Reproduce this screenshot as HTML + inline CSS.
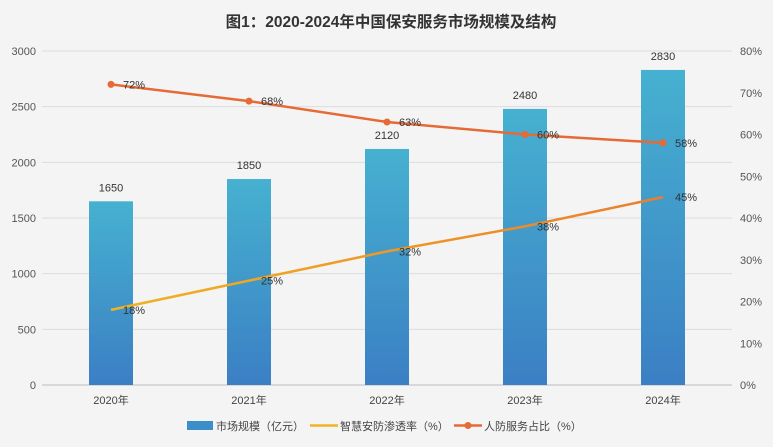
<!DOCTYPE html>
<html><head><meta charset="utf-8"><style>
body{margin:0;background:#f4f4f4;}
svg{display:block;font-family:"Liberation Sans","Noto Sans CJK SC",sans-serif;}
</style></head><body>
<svg id="c" width="773" height="447">
<defs>
<linearGradient id="bg" x1="0" y1="0" x2="0" y2="1"><stop offset="0" stop-color="#46b1d0"/><stop offset="1" stop-color="#3b7fc4"/></linearGradient>
<linearGradient id="lg" x1="0" y1="0" x2="1" y2="0"><stop offset="0" stop-color="#f0b323"/><stop offset="1" stop-color="#ea7e2c"/></linearGradient>
</defs>
<rect width="773" height="447" fill="#f4f4f4"/>
<text x="391" y="27" text-anchor="middle" font-size="15.5" font-weight="bold" fill="#333">图1：2020-2024年中国保安服务市场规模及结构</text>
<g id="g"></g>
<g>
<rect x="187" y="421" width="26" height="9" fill="#3b8ec8"/>
<text x="216" y="430" font-size="11" fill="#444">市场规模（亿元）</text>
<line x1="310" y1="425.5" x2="338" y2="425.5" stroke="#f0b323" stroke-width="2.5"/>
<text x="340" y="430" font-size="11" fill="#444">智慧安防渗透率（%）</text>
<line x1="454" y1="425.5" x2="482" y2="425.5" stroke="#e56a35" stroke-width="2.5"/>
<circle cx="468" cy="425.5" r="3.5" fill="#e56a35"/>
<text x="484" y="430" font-size="11" fill="#444">人防服务占比（%）</text>
</g>
</svg>
<script>
const categories=["2020年","2021年","2022年","2023年","2024年"];
const marketSize=[1650,1850,2120,2480,2830];
const smartRate=[18,25,32,38,45];
const manpowerShare=[72,68,63,60,58];
const leftTicks=[0,500,1000,1500,2000,2500,3000];
const rightTicks=[0,10,20,30,40,50,60,70,80];
const NS="http://www.w3.org/2000/svg";
const g=document.getElementById('g');
const X0=42,X1=732,Y0=385,Y1=51;
const band=(X1-X0)/categories.length;
const xc=i=>X0+band*(i+0.5);
const yl=v=>Y0-(v/3000)*(Y0-Y1);
const yr=v=>Y0-(v/80)*(Y0-Y1);
function el(t,a,txt){const e=document.createElementNS(NS,t);for(const k in a)e.setAttribute(k,a[k]);if(txt!=null)e.textContent=txt;g.appendChild(e);return e;}
leftTicks.forEach(v=>{
 const l=el('line',{x1:X0,x2:X1,y1:yl(v),y2:yl(v),stroke:v===0?'#bbb':'#dcdcdc','stroke-width':1});
 
 
 const t=el('text',{x:36,y:yl(v)+4,'text-anchor':'end','font-size':11,fill:'#555'},v);
 
 
});
rightTicks.forEach(v=>{
 const t=el('text',{x:740,y:yr(v)+4,'font-size':11,fill:'#555'},v+'%');
 
 
});
categories.forEach((c,i)=>{
 const t=el('text',{x:xc(i),y:404,'text-anchor':'middle','font-size':11,fill:'#444'},c);
 
 
 const b=el('rect',{x:xc(i)-22,y:yl(marketSize[i]),width:44,height:Y0-yl(marketSize[i]),fill:'url(#bg)'});
 
 
 const bl=el('text',{x:xc(i),y:yl(marketSize[i])-10,'text-anchor':'middle','font-size':11,fill:'#333'},marketSize[i]);
 
 
});
const p1=el('polyline',{points:smartRate.map((v,i)=>xc(i)+','+yr(v)).join(' '),fill:'none',stroke:'url(#lg)','stroke-width':2.5});


const p2=el('polyline',{points:manpowerShare.map((v,i)=>xc(i)+','+yr(v)).join(' '),fill:'none',stroke:'#e56a35','stroke-width':2.5});


manpowerShare.forEach((v,i)=>{
 const c=el('circle',{cx:xc(i),cy:yr(v),r:3.5,fill:'#e56a35'});
 
 
 const t=el('text',{x:xc(i)+12,y:yr(v)+4,'font-size':11,fill:'#333'},v+'%');
 
 
});
smartRate.forEach((v,i)=>{
 const t=el('text',{x:xc(i)+12,y:yr(v)+4,'font-size':11,fill:'#333'},v+'%');
 
 
});
</script>
</body></html>
